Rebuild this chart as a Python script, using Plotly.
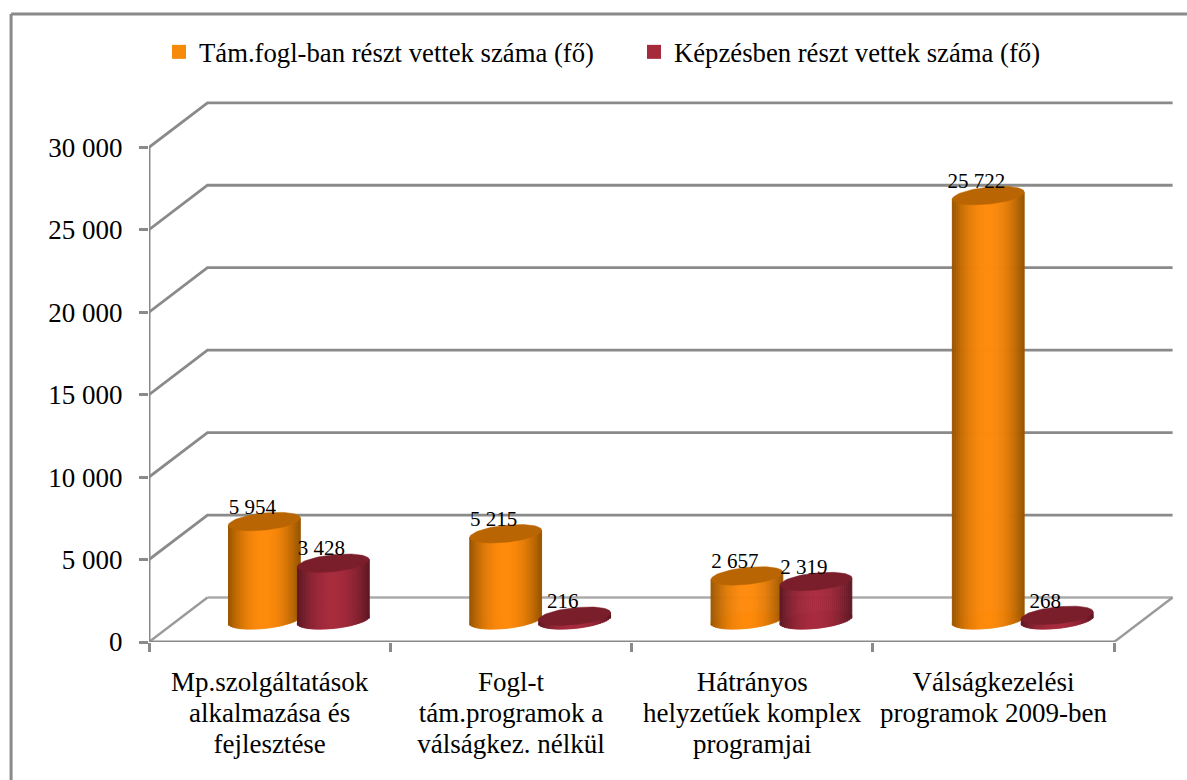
import numpy as np
import plotly.graph_objects as go

categories = [
    ["Mp.szolgáltatások", "alkalmazása és", "fejlesztése"],
    ["Fogl-t", "tám.programok a", "válságkez. nélkül"],
    ["Hátrányos", "helyzetűek komplex", "programjai"],
    ["Válságkezelési", "programok 2009-ben"],
]
series_names = ["Tám.fogl-ban részt vettek száma (fő)", "Képzésben részt vettek száma (fő)"]
employment_support = [5954, 5215, 2657, 25722]
training = [3428, 216, 2319, 268]
value_ticks = [0, 5000, 10000, 15000, 20000, 25000, 30000]
value_tick_text = ["0", "5 000", "10 000", "15 000", "20 000", "25 000", "30 000"]

WIDTH, HEIGHT = 1187, 780
LEFT, RIGHT, TOP, BOTTOM = 148.5, 1181, 95, 642
PLOT_W, PLOT_H = RIGHT - LEFT, BOTTOM - TOP
PX_PER_CAT = 241.4
PX_PER_UNIT = 82.45 / 5000

# Oblique projection of the chart box, in axis units
DEPTH_X = 58.5 / PX_PER_CAT
DEPTH_Y = 44.5 / PX_PER_UNIT
BAR_SHIFT = 34.5 / PX_PER_CAT
RADIUS_X = 36 / PX_PER_CAT
RADIUS_Y = 8.5 / PX_PER_UNIT
TILT = 3.6 / PX_PER_UNIT
LABEL_DX = -12 / PX_PER_CAT
LABEL_DY = 13 / PX_PER_UNIT
GRID = "#8a8a8a"
STRIPS = 36


def shade(u, edge, mid):
    t = (1 - abs(u) ** 2.0)
    return "rgb({},{},{})".format(*[int(round(e + (m - e) * t)) for e, m in zip(edge, mid)])


def ellipse(cx, cy):
    t = np.linspace(0, 2 * np.pi, 90)
    return (cx + RADIUS_X * np.cos(t),
            cy + RADIUS_Y * np.sin(t) + TILT * np.cos(t))


def add_cylinders(fig, values, side, edge, mid, cap, rim, layer):
    """Draws one series as shaded cylinders: a rim, vertical strips and a top ellipse."""
    floor = DEPTH_Y / 2
    xs, bases, heights, colors = [], [], [], []
    for i, v in enumerate(values):
        cx = i + 0.5 + DEPTH_X / 2 + side * BAR_SHIFT
        ex, ey = ellipse(cx, floor)
        fig.add_trace(go.Scatter(x=ex, y=ey, mode="lines", fill="toself", fillcolor=shade(0, edge, mid),
                                 line=dict(color=rim, width=1.5), hoverinfo="skip",
                                 showlegend=False, zorder=layer))
        for u in (np.arange(STRIPS) + 0.5) / STRIPS * 2 - 1:
            low = floor + TILT * u - RADIUS_Y * np.sqrt(1 - u * u)
            high = floor + v + TILT * u
            xs.append(cx + u * RADIUS_X)
            bases.append(low)
            heights.append(high - low)
            colors.append(shade(u, edge, mid))
        tx, ty = ellipse(cx, floor + v)
        fig.add_trace(go.Scatter(x=tx, y=ty, mode="lines", fill="toself", fillcolor=cap,
                                 line=dict(color=cap, width=0.5), hoverinfo="skip",
                                 showlegend=False, zorder=layer + 2))
    fig.add_trace(go.Bar(x=xs, y=heights, base=bases, width=2 * RADIUS_X / STRIPS * 0.9,
                         marker=dict(color=colors, line=dict(width=1, color=colors)), hoverinfo="skip",
                         showlegend=False, zorder=layer + 1))


fig = go.Figure()

# Walls and floor of the chart box
wall_x, wall_y = [], []
for v in value_ticks[1:]:
    wall_x += [0, DEPTH_X, 4 + DEPTH_X, None]
    wall_y += [v, v + DEPTH_Y, v + DEPTH_Y, None]
fig.add_trace(go.Scatter(x=wall_x, y=wall_y, mode="lines", line=dict(color=GRID, width=2.8),
                         hoverinfo="skip", showlegend=False, cliponaxis=False, zorder=-3))
fig.add_trace(go.Scatter(x=[DEPTH_X, 4 + DEPTH_X], y=[DEPTH_Y, DEPTH_Y],
                         mode="lines", line=dict(color="#ababab", width=2.6),
                         hoverinfo="skip", showlegend=False, cliponaxis=False, zorder=-3))
fig.add_trace(go.Scatter(x=[0, DEPTH_X, None, 4, 4 + DEPTH_X], y=[0, DEPTH_Y, None, 0, DEPTH_Y],
                         mode="lines", line=dict(color="#9a9a9a", width=2.4),
                         hoverinfo="skip", showlegend=False, cliponaxis=False, zorder=-2))
fig.add_trace(go.Scatter(x=[0, 0, None, 0, 4], y=[0, 30000, None, 0, 0],
                         mode="lines", line=dict(color=GRID, width=3),
                         hoverinfo="skip", showlegend=False, cliponaxis=False, zorder=-1))

add_cylinders(fig, employment_support, -1, (150, 84, 0), (255, 139, 12), "#b96503", "#f9c78e", 1)
add_cylinders(fig, training, 1, (92, 24, 36), (168, 44, 62), "#7a1e2b", "#d58a98", 4)

# Value labels above each cylinder
for side, values in ((-1, employment_support), (1, training)):
    fig.add_trace(go.Scatter(
        x=[i + 0.5 + DEPTH_X / 2 + side * BAR_SHIFT + LABEL_DX for i in range(4)],
        y=[DEPTH_Y / 2 + v + LABEL_DY for v in values],
        text=[f"{v:,}".replace(",", " ") for v in values],
        mode="text", textposition="middle center",
        textfont=dict(family="Liberation Serif", size=21, color="black"),
        hoverinfo="skip", showlegend=False, cliponaxis=False, zorder=9))

# Legend entries
for name, color in zip(series_names, ("#f58a0b", "#a52a3c")):
    fig.add_trace(go.Scatter(x=[None], y=[None], mode="markers", name=name,
                             marker=dict(symbol="square", size=14, color=color)))

# The line pitch follows the axis font; the glyphs use a larger inner size
tick_labels = ["<br>".join(f'<span style="font-size:27px">{line}</span>' for line in lines)
               for lines in categories]

border_x = (10.5 - LEFT) / PLOT_W
border_y = (BOTTOM - 14) / PLOT_H

fig.update_layout(
    width=WIDTH, height=HEIGHT,
    margin=dict(l=LEFT, r=WIDTH - RIGHT, t=TOP, b=HEIGHT - BOTTOM, pad=0),
    paper_bgcolor="white", plot_bgcolor="white",
    barmode="overlay", hovermode=False,
    font=dict(family="Liberation Serif", color="black"),
    legend=dict(orientation="h", x=(158.5 - LEFT) / PLOT_W, y=(BOTTOM - 52) / PLOT_H,
                xanchor="left", yanchor="middle", font=dict(size=26.7),
                itemwidth=30, entrywidth=430, entrywidthmode="pixels",
                bgcolor="rgba(0,0,0,0)", traceorder="normal"),
    xaxis=dict(range=[0, PLOT_W / PX_PER_CAT], tickmode="array",
               tickvals=[0.5, 1.5, 2.5, 3.5], ticktext=tick_labels, tickangle=0,
               ticks="", showgrid=False, zeroline=False, showline=False,
               tickfont=dict(size=24), ticklabelstandoff=24,
               minor=dict(tickmode="array", tickvals=[0, 1, 2, 3, 4], ticks="outside",
                          ticklen=9, tickwidth=3, tickcolor=GRID, showgrid=False)),
    yaxis=dict(range=[0, PLOT_H / PX_PER_UNIT], tickmode="array",
               tickvals=value_ticks, ticktext=value_tick_text, ticks="outside",
               ticklen=9, tickwidth=3, tickcolor=GRID, showgrid=False, zeroline=False,
               showline=False, tickfont=dict(size=27), ticklabelstandoff=11),
    shapes=[dict(type="line", xref="paper", yref="paper", x0=border_x, x1=border_x,
                 y0=border_y, y1=-(HEIGHT - BOTTOM) / PLOT_H, line=dict(color=GRID, width=3)),
            dict(type="line", xref="paper", yref="paper", x0=border_x, x1=(WIDTH - LEFT) / PLOT_W,
                 y0=border_y, y1=border_y, line=dict(color=GRID, width=3))],
)

fig.write_html("out.html")
